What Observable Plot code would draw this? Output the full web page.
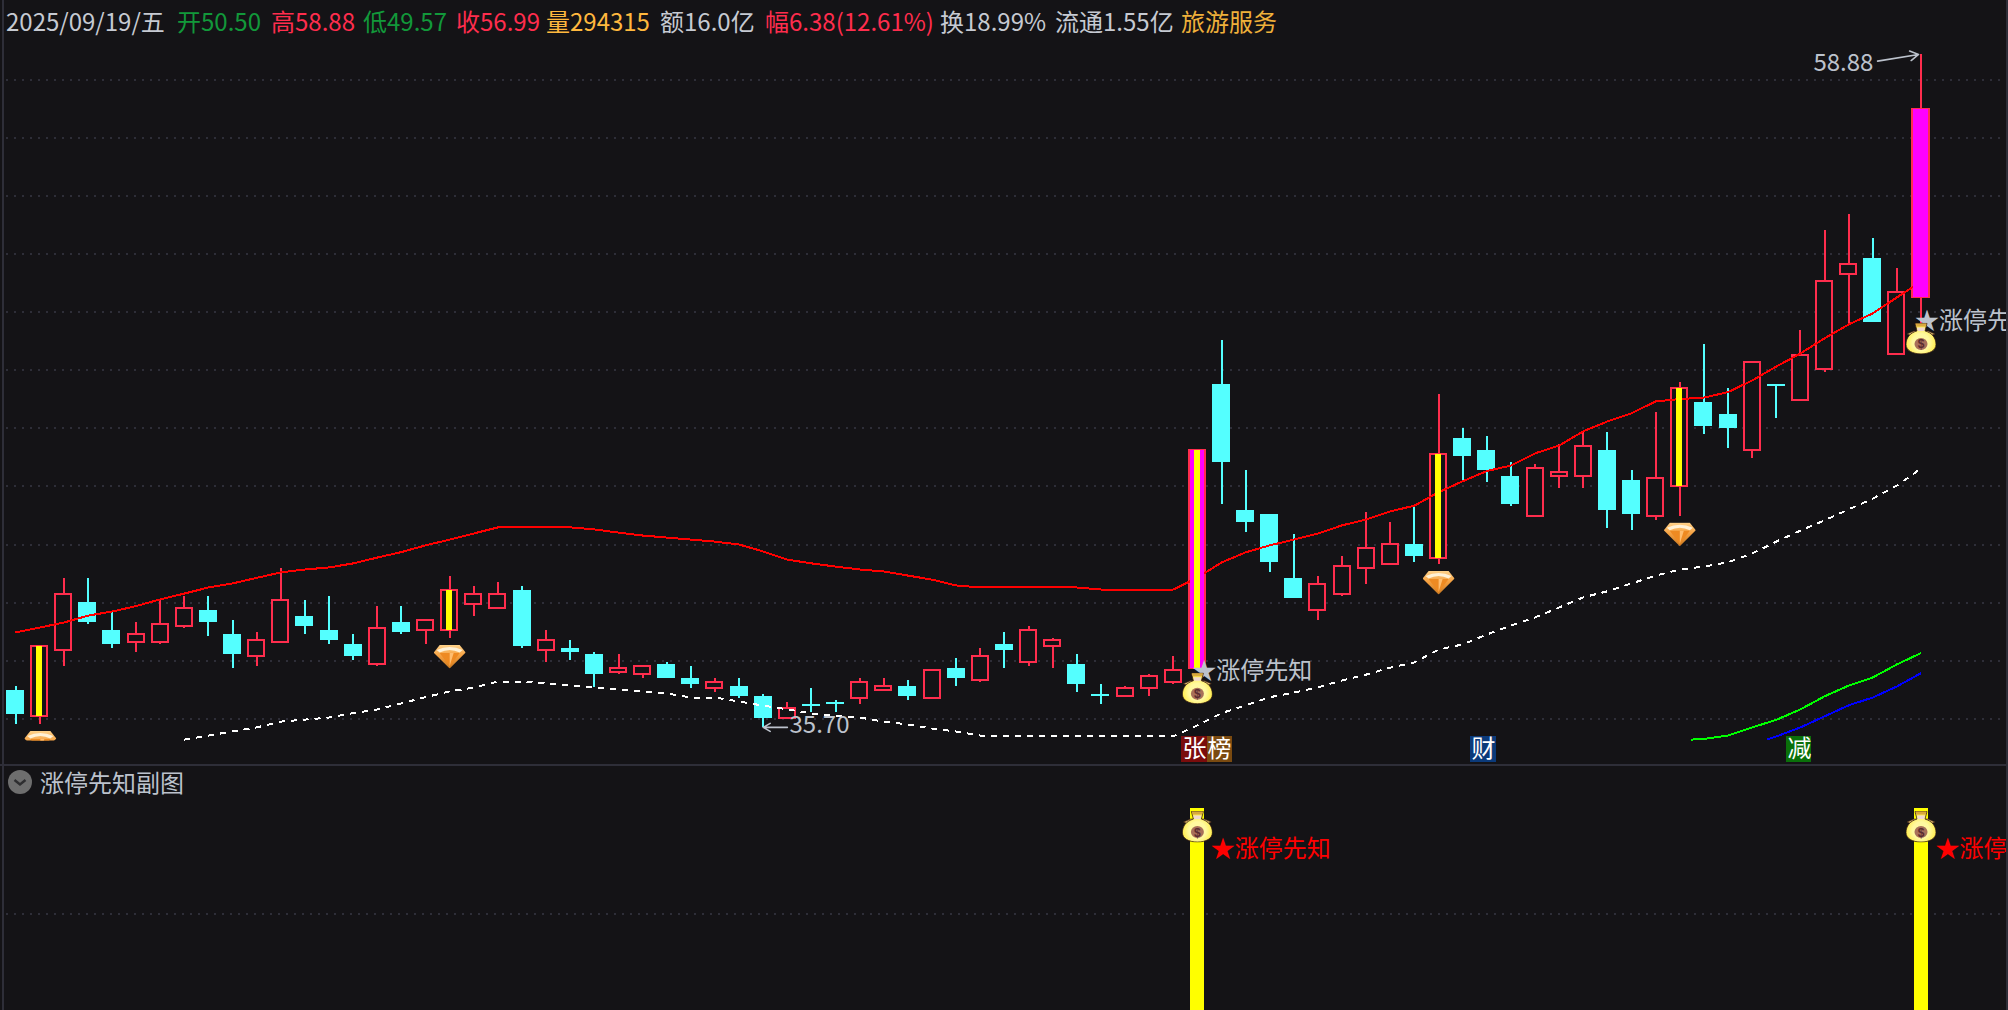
<!DOCTYPE html>
<html><head><meta charset="utf-8">
<script src="https://cdn.jsdelivr.net/npm/d3@7"></script>
<script src="https://cdn.jsdelivr.net/npm/@observablehq/plot@0.6"></script>
<style>
html,body{margin:0;padding:0;width:2008px;height:1010px;overflow:hidden;background:#141316;font-family:"Noto Sans CJK SC","Liberation Sans",sans-serif}
#header{position:relative;height:34px;width:2008px;z-index:2}
#header span{position:absolute;top:3px;line-height:36px;font-size:24px;white-space:nowrap}
.main,.sub{position:relative;width:2006px;overflow:hidden}
.main{height:730px}.sub{height:244px}
.sep{height:2px;width:2008px;background:#2e2e38}
.edge{position:absolute;top:0;width:2px;height:1010px;background:#2e2e38;z-index:3}
#subTitle{position:absolute;left:40px;top:764px;line-height:36px;font-size:24px;color:#bcc2cc;white-space:nowrap;z-index:2}
#subIcon{position:absolute;left:8px;top:4px;z-index:2}
.main svg,.sub svg{display:block}
</style></head><body>
<div class="edge" style="left:2px"></div><div class="edge" style="left:2006px"></div>
<div id="header"></div>
<div class="main" id="main"></div>
<div class="sep"></div>
<div id="subTitle">涨停先知副图</div>
<div class="sub" id="sub">
  <svg id="subIcon" width="24" height="24" viewBox="0 0 24 24"><circle cx="12" cy="12" r="12" fill="#6e6e6e"/><path d="M6.5 10l5.500 4.500 5.500-4.500" fill="none" stroke="#2e2e30" stroke-width="2.4"/></svg>
</div>
<script>
// ---------- data ----------
const headerText  = ["2025/09/19/五","开50.50","高58.88","低49.57","收56.99","量294315","额16.0亿","幅6.38(12.61%)","换18.99%","流通1.55亿","旅游服务"];
const headerLeft  = [6,177,271,363,456,546,660,765,940,1055,1181];
const headerColor = ["#c6cad2","#12983a","#ff2d4d","#12983a","#ff2d4d","#ffb83e","#c6cad2","#ff2d4d","#c6cad2","#c6cad2","#efb03a"];

const open = [36.97,36.08,38.36,40.00,39.04,38.63,38.63,39.19,39.73,38.90,
38.15,38.63,39.52,39.04,38.56,37.88,39.31,39.05,39.05,39.94,
39.81,40.42,38.36,38.42,38.21,37.59,37.53,37.87,37.38,37.05,
37.11,36.76,36.02,36.49,36.56,36.71,36.97,37.11,36.71,37.73,
37.33,38.56,37.95,38.50,37.87,36.83,36.77,37.05,37.26,37.73,
47.51,43.17,43.03,40.83,39.74,40.29,41.18,41.32,42.00,41.53,
45.65,45.24,44.34,42.98,44.34,44.35,45.24,44.20,42.98,44.01,
46.89,46.48,45.25,47.51,46.96,48.03,51.31,51.85,48.56,50.50];
const high = [37.11,38.49,40.83,40.83,39.66,39.31,40.12,40.21,40.21,39.38,
38.97,41.17,40.07,40.21,38.90,39.87,39.87,39.37,40.90,40.55,
40.69,40.55,39.04,38.69,38.28,38.21,37.79,37.94,37.80,37.38,
37.38,36.83,36.56,37.04,36.63,37.38,37.38,37.31,37.65,38.07,
38.42,38.97,39.18,38.76,38.21,37.18,37.11,37.52,38.14,45.24,
49.03,44.55,43.03,42.34,40.90,41.59,43.10,42.76,43.31,47.17,
46.00,45.72,44.83,44.76,45.45,45.86,45.86,44.55,46.55,47.58,
48.89,47.37,48.26,47.51,49.37,52.82,53.37,52.54,51.51,58.88];
const low = [35.80,35.80,37.80,39.25,38.42,38.28,38.56,39.11,38.83,37.73,
37.80,38.63,38.90,38.56,38.00,37.80,38.90,38.56,38.76,39.52,
39.81,38.42,37.94,38.00,37.08,37.52,37.38,37.38,37.04,36.90,
36.70,35.70,36.01,36.21,36.21,36.49,36.97,36.63,36.71,37.11,
37.25,37.73,37.80,37.73,36.90,36.49,36.77,36.76,37.18,37.73,
43.38,42.41,41.04,40.14,39.38,40.22,40.62,41.32,41.38,41.31,
44.20,44.14,43.31,42.98,43.93,43.93,42.55,42.48,42.83,42.96,
45.79,45.31,44.96,46.34,46.96,47.93,49.54,49.65,48.56,49.57];
const close = [36.15,38.49,40.27,39.31,38.56,38.89,39.23,39.79,39.31,38.21,
38.68,40.06,39.18,38.69,38.14,39.10,38.97,39.37,40.41,40.27,
40.27,38.49,38.68,38.28,37.52,37.73,37.79,37.38,37.18,37.24,
36.76,36.01,36.34,36.42,36.49,37.24,37.11,36.76,37.65,37.38,
38.13,38.35,39.03,38.68,37.18,36.76,37.03,37.44,37.65,45.24,
44.83,42.76,41.38,40.14,40.61,41.23,41.85,41.99,41.59,45.09,
45.03,44.55,43.38,44.61,44.48,45.37,43.17,43.03,44.26,47.36,
46.07,46.00,48.26,47.44,48.51,51.07,51.64,49.65,50.67,56.99];

const maRed = [38.97,39.14,39.31,39.55,39.69,39.88,40.11,40.31,40.52,40.66,
40.85,41.04,41.14,41.21,41.35,41.55,41.74,41.97,42.17,42.38,
42.59,42.62,42.62,42.59,42.52,42.41,42.31,42.24,42.17,42.10,
42.00,41.76,41.48,41.35,41.24,41.14,41.07,40.93,40.79,40.59,
40.52,40.52,40.52,40.52,40.52,40.45,40.45,40.45,40.45,40.86,
41.38,41.73,41.97,42.17,42.38,42.66,42.86,43.14,43.34,43.80,
44.18,44.53,44.72,45.14,45.41,45.90,46.24,46.52,46.93,47.01,
47.06,47.25,47.65,48.13,48.58,49.10,49.58,49.96,50.51,51.06];
const whiteStart = 7;
const maWhite = [35.28,35.42,35.56,35.70,35.90,35.97,36.04,36.19,36.32,36.53,36.74,36.94,37.07,
37.28,37.28,37.21,37.14,37.07,37.00,36.94,36.87,36.73,36.73,36.59,36.45,36.32,36.18,36.11,36.04,35.90,
35.80,35.66,35.56,35.42,35.40,35.39,35.39,35.39,35.39,35.39,35.39,35.39,35.77,36.19,36.46,36.74,36.90,
37.08,37.32,37.52,37.76,37.94,38.38,38.56,38.90,39.21,39.49,39.83,40.18,40.39,40.66,40.93,41.14,41.24,
41.39,41.69,42.10,42.48,42.83,43.21,43.58,44.03,44.62];
const greenIdx = [69.45,70,71,72,73,74,75,76,77,78,79];
const maGreen  = [35.28,35.30,35.42,35.70,35.96,36.32,36.77,37.14,37.42,37.87,38.26];
const blueIdx  = [72.6,73,74,75,76,77,78,79];
const maBlue   = [35.28,35.39,35.70,36.08,36.46,36.73,37.11,37.57];

const gridPrices = [36,38,40,42,44,46,48,50,52,54,56,58];
const yellowIdx  = [1,18,49,59,69];
const magentaIdx = [49,79];
const diamondIdx = [18,59,69];
const diamondPrice = [38.14,40.69,42.35];
const cutDiamondIdx = [1.03];
const cutDiamondPrice = [35.42];
const bagIdx = [49,79];
const bagPrice = [37.05,49.10];
const bagSignal = [0.914,0.914];
const starIdx = [48.79,78.75];
const starPrice = [37.64,49.68];
const starLabel = "★涨停先知";
const subLabelIdx = [49.55,79.6];
const subLabelValue = [0.805,0.805];
const signalIdx = [49,79];
const signalGrid = [0.5];
const tagText = ["张","榜","财","减"];
const tagIdx  = [48.88,49.92,60.86,73.96];
const tagFill = ["#7a0c0c","#7a4a10","#0b3a7a","#0a700a"];
const tagTop = 35.39, tagBottom = 34.49, tagMid = 34.94;
const peakLabel = {text:"58.88", idx:74.54, price:58.58};
const troughLabel = {text:"35.70", idx:32.09, price:35.77};

// ---------- styling ----------
const RED="#ff2d4d", CYAN="#54ffff", BG="#141316", GRID="#2e2e38", GRAY="#bcc2cc";
const bodyHalf = 9/24.12, hollowHalf = 8/24.12, magentaHalf = 7/24.12, yellowHalf = 3/24.12;
const crisp = {shapeRendering:"crispEdges"};
const lineStyle = {strokeWidth:2, strokeLinecap:"butt", strokeLinejoin:"miter", curve:"linear", ...crisp};

const bagSVG = `<svg xmlns='http://www.w3.org/2000/svg' viewBox='0 0 30 32'>
<defs><radialGradient id='g' cx='.5' cy='.62' r='.62'><stop offset='.45' stop-color='#fff9a0'/><stop offset='.8' stop-color='#ffee50'/><stop offset='1' stop-color='#e8c040'/></radialGradient></defs>
<path d='M1 11.500l7-3 14 0 7 3-5 2-18 0z' fill='#d9b56a' stroke='#3a2014' stroke-width='.6'/>
<path d='M9 1h12l-2 7.500c7 2 11 7 11 13.500 0 6-6.500 9.500-15 9.500S0 28 0 22c0-6.500 4-11.500 11-13.500z' fill='url(#g)' stroke='#3a2014' stroke-width='.8'/>
<path d='M9.500 1h11l-1 3h-9z' fill='#d8a83e'/><path d='M11 5h8l-.8 3.500h-6.400z' fill='#f0d8d0'/>
<ellipse cx='15' cy='21.500' rx='6.500' ry='6' fill='#a8705a'/>
<text x='15' y='26' font-size='12' font-weight='700' font-family='Liberation Sans' text-anchor='middle' fill='#5a2c30'>$</text></svg>`;
const diamondBody = `<defs><linearGradient id='d' x1='0' y1='0' x2='0' y2='1'><stop offset='0' stop-color='#ffd28a'/><stop offset='.45' stop-color='#f5a040'/><stop offset='1' stop-color='#c87820'/></linearGradient></defs>
<path d='M6 .5h20l6 7.500L16 24 0 8z' fill='url(#d)'/><path d='M3 5.500Q16-.5 29 5.500L26 8Q16 3 6 8z' fill='#fff1d6'/>
<path d='M6 8.500h20L16 22z' fill='#ee8a22'/><path d='M16 8.500l4 0-4 13z' fill='#ffbe70'/>`;
const dataUri = s => "data:image/svg+xml," + encodeURIComponent(s);
const bagSrc = dataUri(bagSVG);
const diamondSrc = dataUri(`<svg xmlns='http://www.w3.org/2000/svg' viewBox='0 0 32 24'>${diamondBody}</svg>`);
const diamondCutSrc = dataUri(`<svg xmlns='http://www.w3.org/2000/svg' viewBox='0 0 32 10'>${diamondBody}</svg>`);

// ---------- header ----------
const header = document.getElementById("header");
headerText.forEach((t,i)=>{
  const s=document.createElement("span");
  s.textContent=t; s.style.left=headerLeft[i]+"px"; s.style.color=headerColor[i];
  header.appendChild(s);
});

// ---------- main panel ----------
const idx = d3.range(open.length);
const upIdx = idx.filter(i=>close[i]>=open[i]);
const downIdx = idx.filter(i=>close[i]<open[i]);
const xScale = {domain:[0,79], range:[15,1920.5], axis:null};
const common = {marginLeft:6, marginRight:6, marginTop:0, marginBottom:0, width:2006,
  style:{background:"transparent", fontFamily:'"Noto Sans CJK SC","Liberation Sans",sans-serif'}};
const hi = i=>Math.max(open[i],close[i]), lo = i=>Math.min(open[i],close[i]);

const mainPlot = Plot.plot({...common, height:730,
  x:xScale, y:{domain:[36,58], range:[684.2,45.5], axis:null},
  marks:[
    Plot.ruleY(gridPrices,{stroke:GRID,strokeWidth:2,strokeDasharray:"2 6",...crisp}),
    Plot.ruleX(upIdx,{x:i=>i,y1:i=>low[i],y2:i=>high[i],stroke:RED,strokeWidth:2,...crisp}),
    Plot.ruleX(downIdx,{x:i=>i,y1:i=>low[i],y2:i=>high[i],stroke:CYAN,strokeWidth:2,...crisp}),
    Plot.rect(upIdx,{x1:i=>i-hollowHalf,x2:i=>i+hollowHalf,y1:i=>lo(i),y2:i=>hi(i),fill:BG,stroke:RED,strokeWidth:2,...crisp}),
    Plot.rect(downIdx,{x1:i=>i-bodyHalf,x2:i=>i+bodyHalf,y1:i=>lo(i),y2:i=>hi(i),fill:CYAN,...crisp}),
    Plot.line(idx,{x:i=>i,y:i=>maRed[i],stroke:"#ff0000",...lineStyle}),
    Plot.rect(magentaIdx,{x1:i=>i-magentaHalf,x2:i=>i+magentaHalf,y1:i=>lo(i),y2:i=>hi(i),fill:"#ff00ff",...crisp}),
    Plot.rect(yellowIdx,{x1:i=>i-yellowHalf,x2:i=>i+yellowHalf,y1:i=>lo(i),y2:i=>hi(i),fill:"#ffff00",...crisp}),
    Plot.line(maWhite,{x:(d,i)=>i+whiteStart,y:d=>d,stroke:"#ffffff",strokeDasharray:"6 6",...lineStyle}),
    Plot.line(maGreen,{x:(d,i)=>greenIdx[i],y:d=>d,stroke:"#00ff00",...lineStyle}),
    Plot.line(maBlue,{x:(d,i)=>blueIdx[i],y:d=>d,stroke:"#0000ff",...lineStyle}),
    Plot.image(diamondIdx,{x:d=>d,y:(d,i)=>diamondPrice[i],src:diamondSrc,width:32,height:24}),
    Plot.image(cutDiamondIdx,{x:d=>d,y:(d,i)=>cutDiamondPrice[i],src:diamondCutSrc,width:32,height:10}),
    Plot.text(starIdx,{x:d=>d,y:(d,i)=>starPrice[i],text:()=>starLabel,textAnchor:"start",fill:GRAY,fontSize:24}),
    Plot.image(bagIdx,{x:d=>d,y:(d,i)=>bagPrice[i],src:bagSrc,width:30,height:32}),
    Plot.rect(tagIdx,{x1:d=>d-0.52,x2:d=>d+0.52,y1:tagBottom,y2:tagTop,fill:(d,i)=>tagFill[i],...crisp}),
    Plot.text(tagIdx,{x:d=>d,y:tagMid,text:(d,i)=>tagText[i],fill:"#ffffff",fontSize:24}),
    Plot.text([peakLabel],{x:d=>d.idx,y:d=>d.price,text:d=>d.text,textAnchor:"start",fill:GRAY,fontSize:24}),
    Plot.text([troughLabel],{x:d=>d.idx,y:d=>d.price,text:d=>d.text,textAnchor:"start",fill:GRAY,fontSize:24}),
    Plot.arrow([0],{x1:77.2,y1:58.65,x2:78.9,y2:58.88,stroke:GRAY,strokeWidth:1.6,headLength:9,bend:0}),
    Plot.arrow([0],{x1:32,y1:35.70,x2:31,y2:35.70,stroke:GRAY,strokeWidth:1.6,headLength:9,bend:0})
  ],
  color:{type:"identity"}
});
document.getElementById("main").appendChild(mainPlot);

// ---------- sub panel ----------
const subPlot = Plot.plot({...common, height:244,
  x:xScale, y:{domain:[0,1], range:[252,42], axis:null},
  marks:[
    Plot.ruleY(signalGrid,{stroke:GRID,strokeWidth:2,strokeDasharray:"2 6",...crisp}),
    Plot.ruleX(signalIdx,{x:d=>d,y1:0,y2:1,stroke:"#ffff00",strokeWidth:14,...crisp}),
    Plot.image(bagIdx,{x:d=>d,y:(d,i)=>bagSignal[i],src:bagSrc,width:30,height:32}),
    Plot.text(subLabelIdx,{x:d=>d,y:(d,i)=>subLabelValue[i],text:()=>starLabel,textAnchor:"start",fill:"#ff0000",fontSize:24})
  ]
});
document.getElementById("sub").appendChild(subPlot);
</script>
</body></html>
